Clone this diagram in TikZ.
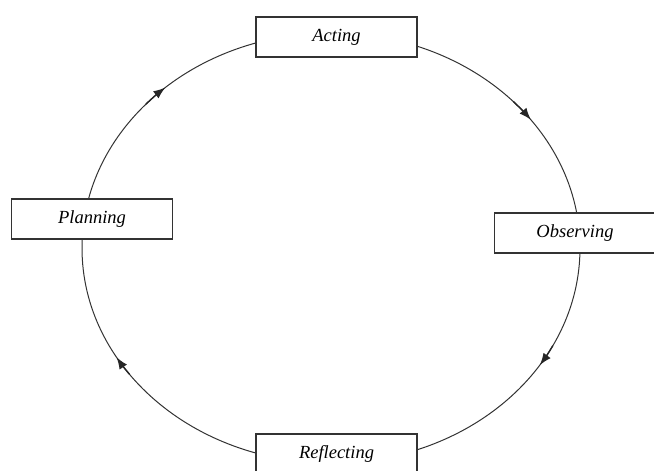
\documentclass[tikz,border=0pt]{standalone}
\usepackage{fontspec}
\setmainfont{Liberation Serif}
\usetikzlibrary{arrows.meta,calc}
\begin{document}
\begin{tikzpicture}[x=1pt,y=1pt,
  stagebox/.style={draw=black!80,line width=1.1pt,fill=white,minimum width=161pt,minimum height=40pt,inner sep=0pt,font=\fontsize{18.5}{21}\selectfont\itshape},
  cyc/.style={draw=black!80,line width=1pt},
  tip/.style={draw=black!85,line width=1.4pt,-{Latex[length=12pt,width=9pt]}}]
\useasboundingbox (0,0) rectangle (654,471);
\coordinate (c) at (331,223);
\draw[cyc] (c) ellipse [x radius=249pt, y radius=215pt];
\draw[tip] ($(c)+(138:249pt and 215pt)$) arc[start angle=138,end angle=131.7,x radius=249pt,y radius=215pt];
\draw[tip] ($(c)+(43:249pt and 215pt)$) arc[start angle=43,end angle=36.6,x radius=249pt,y radius=215pt];
\draw[tip] ($(c)+(-27:249pt and 215pt)$) arc[start angle=-27,end angle=-33,x radius=249pt,y radius=215pt];
\draw[tip] ($(c)+(216:249pt and 215pt)$) arc[start angle=216,end angle=210.5,x radius=249pt,y radius=215pt];
\node[stagebox] (acting) at (336.5,434) {Acting};
\node[stagebox] (observing) at (575,238) {Observing};
\node[stagebox] (planning) at (92,252) {Planning};
\node[stagebox] (reflecting) at (336.5,17) {Reflecting};
\end{tikzpicture}
\end{document}
